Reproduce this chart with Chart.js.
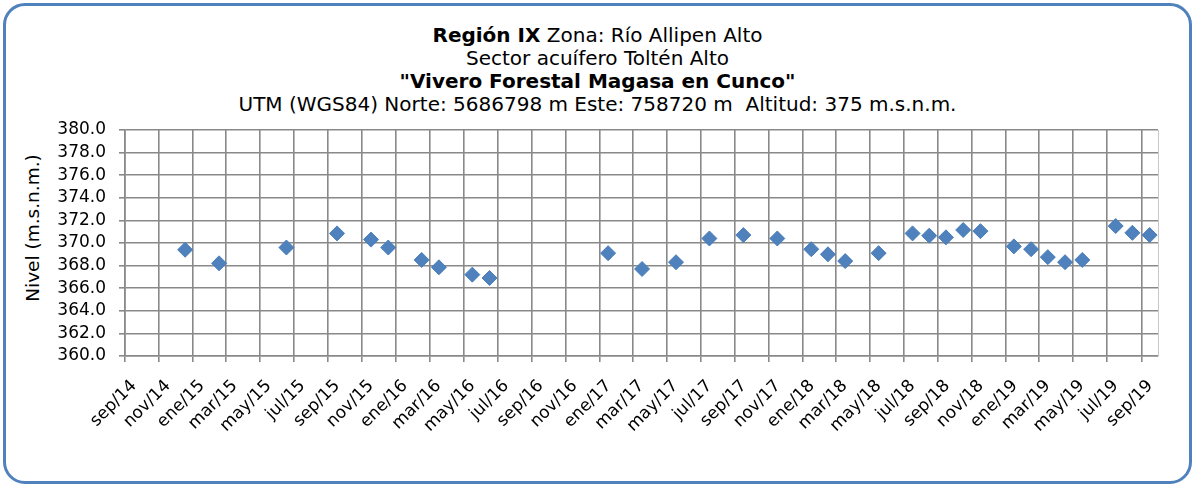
<!DOCTYPE html>
<html>
<head>
<meta charset="utf-8">
<script src="https://cdn.jsdelivr.net/npm/chart.js@4.4.1/dist/chart.umd.min.js"></script>
<style>
  body { margin: 0; background: #fff; font-family: "DejaVu Sans", Verdana, sans-serif; }
  #marco {
    position: absolute; left: 3px; top: 3px; width: 1183px; height: 475px;
    border: 3px solid #4f81bd; border-radius: 22px;
  }
  #titulo {
    position: absolute; left: 0; top: 24px; width: 1195px;
    text-align: center; font-size: 20px; line-height: 23px; color: #000;
  }
  #ylab {
    position: absolute; left: 32px; top: 228px; font-size: 18.5px; color: #000;
    transform: translate(-50%, -50%) rotate(-90deg); white-space: nowrap;
  }
  canvas { position: absolute; left: 0; top: 0; }
</style>
</head>
<body>
<div id="marco"></div>
<div id="titulo">
  <div><b>Región IX</b> Zona: Río Allipen Alto</div>
  <div>Sector acuífero Toltén Alto</div>
  <div><b>"Vivero Forestal Magasa en Cunco"</b></div>
  <div>UTM (WGS84) Norte: 5686798 m Este: 758720 m&nbsp; Altitud: 375 m.s.n.m.</div>
</div>
<div id="ylab">Nivel (m.s.n.m.)</div>
<canvas id="grafico" width="1195" height="486"></canvas>
<script>
// fechas de medición y nivel (m.s.n.m.)
const fechas = [
  '2014-12-18', '2015-02-17', '2015-06-18', '2015-09-17', '2015-11-17', '2015-12-18',
  '2016-02-16', '2016-03-18', '2016-05-17', '2016-06-17',
  '2017-01-16', '2017-03-18', '2017-05-18', '2017-07-17', '2017-09-16', '2017-11-16',
  '2018-01-16', '2018-02-15', '2018-03-18', '2018-05-17', '2018-07-17', '2018-08-16',
  '2018-09-15', '2018-10-16', '2018-11-16',
  '2019-01-15', '2019-02-15', '2019-03-17', '2019-04-17', '2019-05-18', '2019-07-17',
  '2019-08-16', '2019-09-16'
];
const niveles = [
  369.4, 368.2, 369.6, 370.85, 370.3, 369.6,
  368.5, 367.85, 367.2, 366.9,
  369.1, 367.7, 368.3, 370.4, 370.7, 370.4,
  369.45, 369.0, 368.4, 369.1, 370.85, 370.65,
  370.5, 371.15, 371.05,
  369.7, 369.45, 368.75, 368.3, 368.5, 371.5,
  370.9, 370.7
];
const etiquetasX = [
  'sep/14', 'nov/14', 'ene/15', 'mar/15', 'may/15', 'jul/15', 'sep/15', 'nov/15',
  'ene/16', 'mar/16', 'may/16', 'jul/16', 'sep/16', 'nov/16', 'ene/17', 'mar/17',
  'may/17', 'jul/17', 'sep/17', 'nov/17', 'ene/18', 'mar/18', 'may/18', 'jul/18',
  'sep/18', 'nov/18', 'ene/19', 'mar/19', 'may/19', 'jul/19', 'sep/19'
];
const meses = ['ene', 'feb', 'mar', 'abr', 'may', 'jun', 'jul', 'ago', 'sep', 'oct', 'nov', 'dic'];

// fecha -> dias desde 1970
const dia = s => {
  const p = s.split('-').map(Number);
  return Date.UTC(p[0], p[1] - 1, p[2]) / 86400000;
};
const diaEtiqueta = e => {
  const [m, a] = e.split('/');
  return Date.UTC(2000 + Number(a), meses.indexOf(m), 1) / 86400000;
};
const ticksX = etiquetasX.map(diaEtiqueta);

const fuente = { family: '"DejaVu Sans", Verdana, sans-serif', size: 17 };
const gris = '#898989';

const bordeDerecho = {
  id: 'bordeDerecho',
  beforeDatasetsDraw(chart) {
    const { ctx, chartArea: a } = chart;
    ctx.save();
    ctx.strokeStyle = '#c8c8c8';
    ctx.lineWidth = 1;
    ctx.beginPath();
    ctx.moveTo(a.right + 0.5, a.top);
    ctx.lineTo(a.right + 0.5, a.bottom);
    ctx.stroke();
    ctx.restore();
  }
};

new Chart(document.getElementById('grafico'), {
  type: 'scatter',
  data: {
    datasets: [{
      data: fechas.map((f, i) => ({ x: dia(f), y: niveles[i] })),
      pointStyle: 'rectRot',
      radius: 7.5,
      backgroundColor: '#4f81bd',
      borderColor: '#4a7ebb',
      borderWidth: 1
    }]
  },
  options: {
    responsive: false,
    animation: false,
    layout: { padding: { left: 0, top: 130, right: 37, bottom: 0 } },
    plugins: { legend: { display: false }, tooltip: { enabled: false } },
    scales: {
      x: {
        type: 'linear',
        min: dia('2014-09-01'),
        max: dia('2019-10-01'),
        afterBuildTicks: s => { s.ticks = ticksX.map(v => ({ value: v })); },
        afterFit: s => { s.height = 130; },
        ticks: {
          autoSkip: false, minRotation: 45, maxRotation: 45,
          callback: (v, i) => etiquetasX[i],
          font: fuente, color: '#000', padding: 14, labelOffset: 9
        },
        grid: { color: gris, lineWidth: 1.6, tickLength: 6 },
        border: { color: gris, width: 1.6 }
      },
      y: {
        min: 360, max: 380,
        afterFit: s => { s.width = 125; },
        ticks: {
          autoSkip: false, stepSize: 2, callback: v => v.toFixed(1),
          font: fuente, color: '#000', padding: 13
        },
        grid: { color: gris, lineWidth: 1.6, tickLength: 6 },
        border: { color: gris, width: 1.6 }
      }
    }
  },
  plugins: [bordeDerecho]
});
</script>
</body>
</html>
